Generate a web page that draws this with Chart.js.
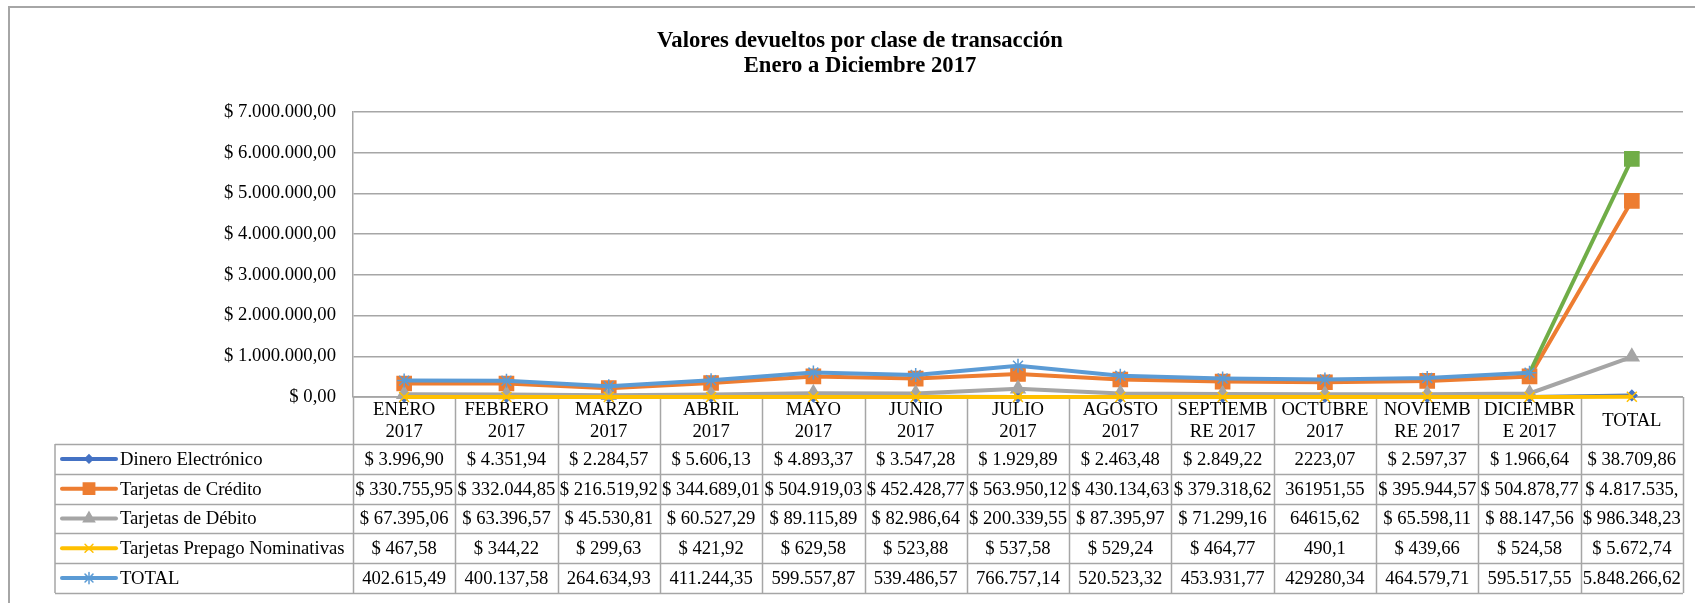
<!DOCTYPE html>
<html>
<head>
<meta charset="utf-8">
<title>Valores devueltos por clase de transacción</title>
<script src="https://cdn.jsdelivr.net/npm/chart.js@4.4.0/dist/chart.umd.min.js"></script>
<style>
  html, body { margin: 0; background: #fff; }
  canvas { display: block; }
</style>
</head>
<body>
<canvas id="grafico" width="1695" height="603"></canvas>
<script>
// categorias (encabezado de la tabla, en dos lineas como en Excel)
const categorias = [
    ['ENERO', '2017'], ['FEBRERO', '2017'], ['MARZO', '2017'], ['ABRIL', '2017'],
    ['MAYO', '2017'], ['JUNIO', '2017'], ['JULIO', '2017'], ['AGOSTO', '2017'],
    ['SEPTIEMB', 'RE 2017'], ['OCTUBRE', '2017'], ['NOVIEMB', 'RE 2017'], ['DICIEMBR', 'E 2017'],
    ['TOTAL']
];
const nombresSeries = ['Dinero Electrónico', 'Tarjetas de Crédito', 'Tarjetas de Débito', 'Tarjetas Prepago Nominativas', 'TOTAL'];

// valores de cada serie
const dineroElectronico = [3996.90, 4351.94, 2284.57, 5606.13, 4893.37, 3547.28, 1929.89, 2463.48, 2849.22, 2223.07, 2597.37, 1966.64, 38709.86];
const tarjetasCredito = [330755.95, 332044.85, 216519.92, 344689.01, 504919.03, 452428.77, 563950.12, 430134.63, 379318.62, 361951.55, 395944.57, 504878.77, 4817535.79];
const tarjetasDebito = [67395.06, 63396.57, 45530.81, 60527.29, 89115.89, 82986.64, 200339.55, 87395.97, 71299.16, 64615.62, 65598.11, 88147.56, 986348.23];
const tarjetasPrepago = [467.58, 344.22, 299.63, 421.92, 629.58, 523.88, 537.58, 529.24, 464.77, 490.1, 439.66, 524.58, 5672.74];
const totalMes = [402615.49, 400137.58, 264634.93, 411244.35, 599557.87, 539486.57, 766757.14, 520523.32, 453931.77, 429280.34, 464579.71, 595517.55, 5848266.62];

// textos de la tabla de datos, tal como aparecen en la hoja
const textoDinero = ['$ 3.996,90', '$ 4.351,94', '$ 2.284,57', '$ 5.606,13', '$ 4.893,37', '$ 3.547,28', '$ 1.929,89', '$ 2.463,48', '$ 2.849,22', '2223,07', '$ 2.597,37', '$ 1.966,64', '$ 38.709,86'];
const textoCredito = ['$ 330.755,95', '$ 332.044,85', '$ 216.519,92', '$ 344.689,01', '$ 504.919,03', '$ 452.428,77', '$ 563.950,12', '$ 430.134,63', '$ 379.318,62', '361951,55', '$ 395.944,57', '$ 504.878,77', '$ 4.817.535,'];
const textoDebito = ['$ 67.395,06', '$ 63.396,57', '$ 45.530,81', '$ 60.527,29', '$ 89.115,89', '$ 82.986,64', '$ 200.339,55', '$ 87.395,97', '$ 71.299,16', '64615,62', '$ 65.598,11', '$ 88.147,56', '$ 986.348,23'];
const textoPrepago = ['$ 467,58', '$ 344,22', '$ 299,63', '$ 421,92', '$ 629,58', '$ 523,88', '$ 537,58', '$ 529,24', '$ 464,77', '490,1', '$ 439,66', '$ 524,58', '$ 5.672,74'];
const textoTotal = ['402.615,49', '400.137,58', '264.634,93', '411.244,35', '599.557,87', '539.486,57', '766.757,14', '520.523,32', '453.931,77', '429280,34', '464.579,71', '595.517,55', '5.848.266,62'];

const FUENTE = '"Liberation Serif", "Times New Roman", serif';
const GRIS = '#a6a6a6';
const TAM = 18.67;

function formatoPesos(v) {
    const entero = Math.round(v).toString().replace(/\B(?=(\d{3})+(?!\d))/g, '.');
    return '$ ' + entero + ',00';
}

const ultimo = categorias.length - 1;

function serie(nombre, datos, color, estilo, radio, orden) {
    return {
        label: nombre,
        data: datos,
        borderColor: color,
        backgroundColor: color,
        borderWidth: 4,
        pointStyle: estilo,
        pointRadius: radio,
        pointBorderColor: color,
        pointBackgroundColor: color,
        pointBorderWidth: 1.5,
        tension: 0,
        clip: false,
        order: orden
    };
}

const datasets = [
    serie(nombresSeries[0], dineroElectronico, '#4472C4', 'rectRot', 5, 5),
    serie(nombresSeries[1], tarjetasCredito, '#ED7D31', 'rect', 10, 4),
    serie(nombresSeries[2], tarjetasDebito, '#A5A5A5', 'triangle', 8, 3),
    serie(nombresSeries[3], tarjetasPrepago, '#FFC000', 'crossRot', 7, 2),
    serie(nombresSeries[4], totalMes, '#5B9BD5', 'star', 7, 1)
];
// en la hoja el ultimo punto del TOTAL quedo en verde con marcador cuadrado
const totalDs = datasets[4];
totalDs.pointStyle = totalMes.map((v, i) => i === ultimo ? 'rect' : 'star');
totalDs.pointRadius = totalMes.map((v, i) => i === ultimo ? 10 : 7);
totalDs.pointBorderColor = totalMes.map((v, i) => i === ultimo ? '#70AD47' : '#5B9BD5');
totalDs.pointBackgroundColor = totalMes.map((v, i) => i === ultimo ? '#70AD47' : '#5B9BD5');
totalDs.segment = {
    borderColor: ctx => ctx.p1DataIndex === ultimo ? '#70AD47' : undefined
};

const filasTabla = [textoDinero, textoCredito, textoDebito, textoPrepago, textoTotal];
const ALTO_ENCABEZADO = 47;
const ALTO_FILA = 29.8;
const IZQ_LEYENDA = 55;

// marco, titulo y lineas de la tabla (debajo de las series)
const tablaDatos = {
    id: 'tablaDatos',
    beforeDatasetsDraw(chart) {
        const ctx = chart.ctx;
        const area = chart.chartArea;
        const ancho = area.width / categorias.length;
        const topFilas = area.bottom + ALTO_ENCABEZADO;
        const fondo = topFilas + ALTO_FILA * filasTabla.length;

        ctx.save();
        ctx.strokeStyle = GRIS;
        ctx.lineWidth = 2;
        ctx.strokeRect(9, 7, chart.width + 20, chart.height + 20);

        ctx.fillStyle = '#000';
        ctx.textAlign = 'center';
        ctx.textBaseline = 'middle';
        ctx.font = 'bold 22.67px ' + FUENTE;
        ctx.fillText('Valores devueltos por clase de transacción', 860, 41);
        ctx.fillText('Enero a Diciembre 2017', 860, 66);

        ctx.strokeStyle = GRIS;
        ctx.lineWidth = 1.5;
        ctx.beginPath();
        for (let i = 0; i <= categorias.length; i++) {
            const xi = Math.round(area.left + ancho * i) + 0.5;
            ctx.moveTo(xi, area.bottom);
            ctx.lineTo(xi, fondo);
        }
        ctx.moveTo(IZQ_LEYENDA, topFilas);
        ctx.lineTo(IZQ_LEYENDA, fondo);
        ctx.moveTo(area.left, area.bottom);
        ctx.lineTo(area.right, area.bottom);
        for (let r = 0; r <= filasTabla.length; r++) {
            const yr = Math.round(topFilas + ALTO_FILA * r) + 0.5;
            ctx.moveTo(IZQ_LEYENDA, yr);
            ctx.lineTo(area.right, yr);
        }
        ctx.stroke();
        ctx.restore();
    },
    afterDraw(chart) {
        const ctx = chart.ctx;
        const area = chart.chartArea;
        const x = chart.scales.x;
        const topFilas = area.bottom + ALTO_ENCABEZADO;

        ctx.save();
        ctx.fillStyle = '#000';
        ctx.font = TAM + 'px ' + FUENTE;
        ctx.textAlign = 'center';
        ctx.textBaseline = 'middle';
        categorias.forEach((lineas, i) => {
            const cx = x.getPixelForValue(i);
            const cy = area.bottom + ALTO_ENCABEZADO / 2;
            if (lineas.length === 1) {
                ctx.fillText(lineas[0], cx, cy + 1);
            } else {
                ctx.fillText(lineas[0], cx, cy - 10);
                ctx.fillText(lineas[1], cx, cy + 12);
            }
        });

        filasTabla.forEach((fila, r) => {
            const cy = topFilas + ALTO_FILA * (r + 0.5) + 1;
            const ds = chart.data.datasets[r];
            const color = ds.borderColor;
            ctx.strokeStyle = color;
            ctx.lineWidth = 4;
            ctx.lineCap = 'round';
            ctx.beginPath();
            ctx.moveTo(62, cy - 1);
            ctx.lineTo(116, cy - 1);
            ctx.stroke();
            ctx.fillStyle = color;
            ctx.lineWidth = 1.5;
            const estilo = Array.isArray(ds.pointStyle) ? ds.pointStyle[0] : ds.pointStyle;
            const radio = Array.isArray(ds.pointRadius) ? ds.pointRadius[0] : ds.pointRadius;
            Chart.helpers.drawPoint(ctx, { pointStyle: estilo, radius: radio * 0.8, rotation: 0, borderWidth: 1.5 }, 89, cy - 1);

            ctx.fillStyle = '#000';
            ctx.textAlign = 'left';
            ctx.fillText(nombresSeries[r], 120, cy);
            ctx.textAlign = 'center';
            fila.forEach((t, i) => {
                ctx.fillText(t, x.getPixelForValue(i), cy);
            });
        });
        ctx.restore();
    }
};

new Chart(document.getElementById('grafico').getContext('2d'), {
    type: 'line',
    data: {
        labels: categorias.map(c => c.join(' ')),
        datasets: datasets
    },
    options: {
        responsive: false,
        devicePixelRatio: 1,
        animation: false,
        layout: { padding: { left: 0, right: 12, top: 112, bottom: 206 } },
        plugins: {
            legend: { display: false },
            title: { display: false },
            tooltip: { enabled: false }
        },
        scales: {
            x: {
                offset: true,
                ticks: { display: false },
                grid: { display: false },
                border: { display: false },
                afterFit(scale) { scale.height = 0; }
            },
            y: {
                min: 0,
                max: 7000000,
                ticks: {
                    stepSize: 1000000,
                    padding: 17,
                    color: '#000',
                    font: { family: FUENTE, size: TAM },
                    callback: v => formatoPesos(v)
                },
                grid: { color: GRIS, lineWidth: 1.5, drawTicks: false },
                border: { display: true, color: GRIS, width: 1.5 },
                afterFit(scale) { scale.width = 353; }
            }
        }
    },
    plugins: [tablaDatos]
});
</script>
</body>
</html>
